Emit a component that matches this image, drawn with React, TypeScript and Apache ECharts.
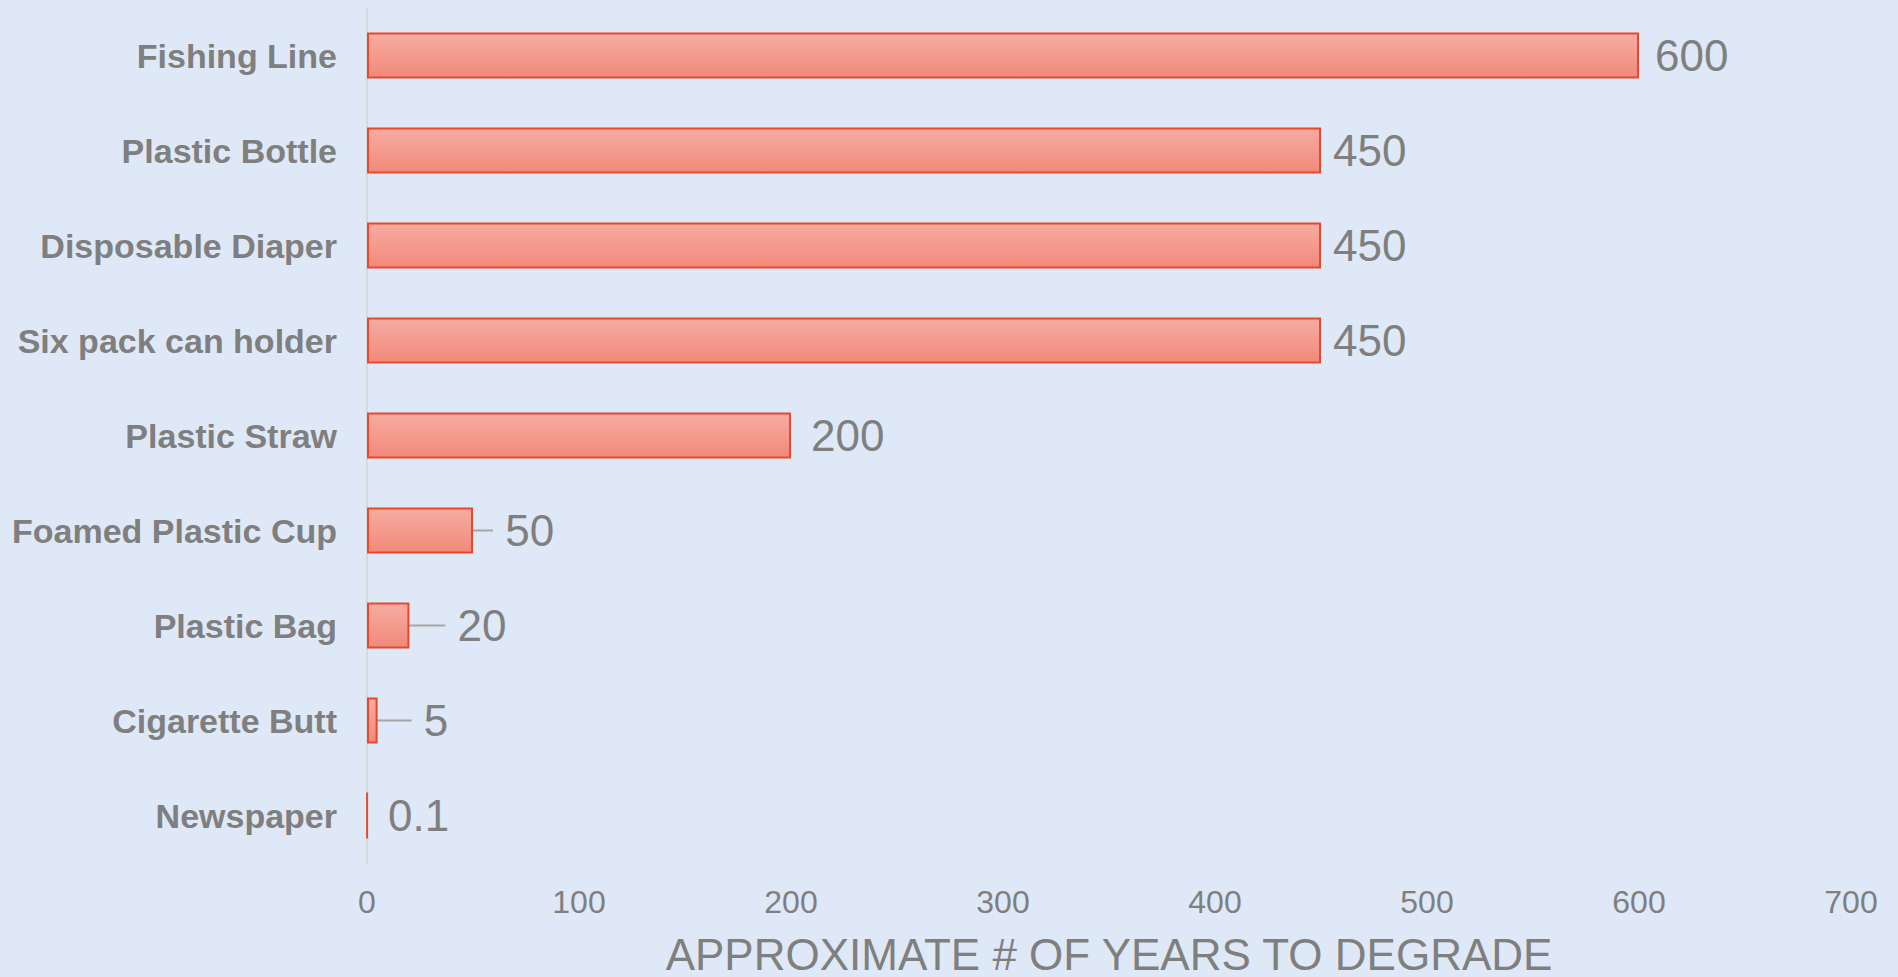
import React, { useEffect, useRef } from "react";
import * as echarts from "echarts";

const categories = [
  "Fishing Line",
  "Plastic Bottle",
  "Disposable Diaper",
  "Six pack can holder",
  "Plastic Straw",
  "Foamed Plastic Cup",
  "Plastic Bag",
  "Cigarette Butt",
  "Newspaper",
];
const years = [600, 450, 450, 450, 200, 50, 20, 5, 0.1];
const withLeader = [false, false, false, false, false, true, true, true, false];
const labelShift = [4, 0, 0, 0, 8, 8, 24, 22, 8];
const axisTitle = "APPROXIMATE # OF YEARS TO DEGRADE";

export default function App() {
  const ref = useRef<HTMLDivElement>(null);
  useEffect(() => {
    document.body.style.margin = "0";
    document.body.style.background = "#dfe8f6";
    const chart = echarts.init(ref.current!, undefined, { renderer: "svg" });
    const grey = "#7f7f7f";
    chart.setOption({
      animation: false,
      backgroundColor: "#dfe8f6",
      textStyle: { fontFamily: "Liberation Sans, Arial, sans-serif" },
      grid: {
        left: 367,
        right: 47,
        top: 8,
        bottom: 114,
        containLabel: false,
        outerBoundsMode: "none",
      },
      xAxis: {
        type: "value",
        min: 0,
        max: 700,
        interval: 100,
        axisLine: { show: false },
        axisTick: { show: false },
        splitLine: { show: false },
        axisLabel: { color: grey, fontSize: 32, margin: 23 },
        name: axisTitle,
        nameLocation: "middle",
        nameGap: 71,
        nameTextStyle: { color: grey, fontSize: 44, lineHeight: 40 },
      },
      yAxis: {
        type: "category",
        inverse: true,
        data: categories,
        axisLine: { show: true, lineStyle: { color: "#d6d9de", width: 2 } },
        axisTick: { show: false },
        axisLabel: { color: grey, fontSize: 34, fontWeight: "bold", margin: 30 },
      },
      series: [
        {
          type: "bar",
          barWidth: 46,
          data: years.map((v, i) => ({
            value: v,
            labelLine: { show: withLeader[i] },
          })),
          itemStyle: {
            color: new echarts.graphic.LinearGradient(0, 0, 0, 1, [
              { offset: 0, color: "#f6aca2" },
              { offset: 1, color: "#f2897a" },
            ]),
            borderColor: "#e8492c",
            borderWidth: 2,
          },
          label: {
            show: true,
            position: "right",
            distance: 12,
            color: grey,
            fontSize: 44,
            formatter: (p: any) =>
              (withLeader[p.dataIndex] ? "\u00a0" : "") + String(p.value),
          },
          labelLine: {
            show: false,
            lineStyle: { color: "#a6a6a6", width: 2 },
          },
          labelLayout: (p: any) => ({ dx: labelShift[p.dataIndex] }),
        },
      ],
    });
    return () => chart.dispose();
  }, []);
  return <div ref={ref} style={{ width: 1898, height: 977, background: "#dfe8f6" }} />;
}
